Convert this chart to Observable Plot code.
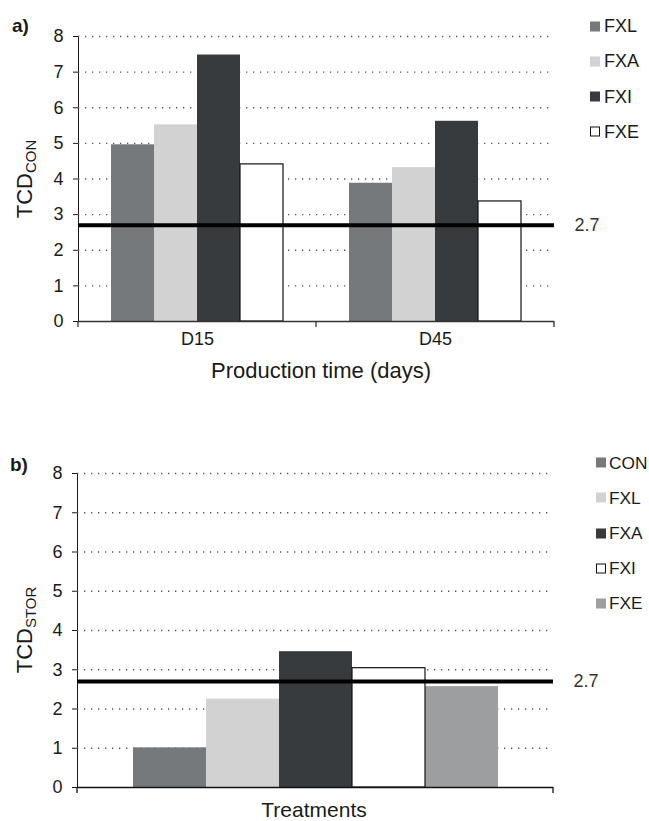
<!DOCTYPE html>
<html>
<head>
<meta charset="utf-8">
<script src="https://cdn.jsdelivr.net/npm/d3@7"></script>
<script src="https://cdn.jsdelivr.net/npm/@observablehq/plot@0.6"></script>
<style>
  html, body { margin: 0; padding: 0; background: #fff; }
  #wrap { position: relative; width: 649px; height: 821px; overflow: hidden; font-family: "Liberation Sans", Arial, sans-serif; color: #1a1a1a; }
  #wrap svg { position: absolute; left: 0; }
  .ov { position: absolute; white-space: nowrap; line-height: 1; }
  .panel { font-weight: bold; font-size: 19px; }
  .axlab { font-size: 22px; transform: translate(-50%, -50%); }
  .axlab.small { font-size: 21px; }
  .ylab { font-size: 22px; transform: translate(-50%, -50%) rotate(-90deg); }
  .ylab sub { font-size: 15px; vertical-align: -4px; }
  .leg { position: absolute; font-size: 18px; display: flex; align-items: center; transform: translateY(-50%); }
  .leg.b { font-size: 17.3px; }
  .leg span.sw { display: inline-block; width: 10px; height: 10px; margin-right: 4px; box-sizing: border-box; }
  .leg.b span.sw { margin-right: 3px; }
</style>
</head>
<body>
<div id="wrap"></div>
<script>
// ---- data ----
const days = ["D15", "D45"];
const treatmentsA = ["FXL", "FXA", "FXI", "FXE"];
const valuesD15 = [4.96, 5.52, 7.48, 4.41];
const valuesD45 = [3.88, 4.32, 5.62, 3.37];
const colorsA = ["#76797c", "#d1d2d1", "#383b3e", "#ffffff"];

const treatmentsB = ["CON", "FXL", "FXA", "FXI", "FXE"];
const valuesB = [1.01, 2.25, 3.46, 3.04, 2.57];
const colorsB = ["#76797c", "#d1d2d1", "#383b3e", "#ffffff", "#9c9ea0"];

const threshold = 2.7;
const yTicks = [0, 1, 2, 3, 4, 5, 6, 7, 8];
const gridTicks = [1, 2, 3, 4, 5, 6, 7, 8];

const wrap = document.getElementById("wrap");
const font = '"Liberation Sans", Arial, sans-serif';

// ---- chart a ----
const seriesA = [valuesD15, valuesD45];
const dataA = days.flatMap((d, i) => treatmentsA.map((t, j) => ({day: d, treatment: t, value: seriesA[i][j]})));

const plotA = Plot.plot({
  width: 649, height: 421,
  marginTop: 36, marginBottom: 100, marginLeft: 78, marginRight: 95,
  style: {fontFamily: font, fontSize: "18px", color: "#1a1a1a", background: "transparent", overflow: "visible"},
  fx: {domain: days, padding: 0, label: null, axis: "bottom", tickSize: 0, tickPadding: 11},
  x: {domain: treatmentsA, paddingInner: 0, paddingOuter: 0.72, axis: null},
  y: {domain: [0, 8], ticks: yTicks, tickSize: 5, tickPadding: 10, label: null, line: true},
  color: {domain: treatmentsA, range: colorsA},
  marks: [
    Plot.gridY(gridTicks, {stroke: "#555", strokeOpacity: 1, strokeWidth: 1.3, strokeDasharray: "1.3,5.7"}),
    Plot.barY(dataA, {fx: "day", x: "treatment", y: "value", fill: "treatment"}),
    Plot.barY(dataA.filter(d => colorsA[treatmentsA.indexOf(d.treatment)] === "#ffffff"),
      {fx: "day", x: "treatment", y: "value", fill: "#fff", stroke: "#111", strokeWidth: 1.2}),
    Plot.ruleY([0], {stroke: "#333", strokeWidth: 1.3}),
    Plot.ruleY([threshold], {stroke: "#000", strokeWidth: 4}),
    Plot.text([{day: days[days.length - 1], v: threshold}], {fx: "day", y: "v", text: d => String(d.v),
      frameAnchor: "right", textAnchor: "start", dx: 20, fill: "#333", fontSize: 18})
  ]
});
plotA.style.top = "0px";
wrap.appendChild(plotA);

// category boundary ticks on x axis (Excel style)
{
  const fxs = plotA.scale("fx"), ys = plotA.scale("y");
  const y0 = ys.apply(0);
  const edges = [fxs.apply(days[0]), ...days.map(d => fxs.apply(d) + fxs.bandwidth)];
  d3.select(plotA).append("g").selectAll("line").data(edges).join("line")
    .attr("x1", d => d).attr("x2", d => d).attr("y1", y0).attr("y2", y0 + 6)
    .attr("stroke", "#333").attr("stroke-width", 1.3);
}

// ---- chart b ----
const dataB = treatmentsB.map((t, i) => ({treatment: t, value: valuesB[i]}));
const plotB = Plot.plot({
  width: 649, height: 400,
  marginTop: 52, marginBottom: 34, marginLeft: 77, marginRight: 96,
  style: {fontFamily: font, fontSize: "18px", color: "#1a1a1a", background: "transparent", overflow: "visible"},
  x: {domain: treatmentsB, paddingInner: 0, paddingOuter: 0.75, axis: null},
  y: {domain: [0, 8], ticks: yTicks, tickSize: 5, tickPadding: 10, label: null, line: true},
  color: {domain: treatmentsB, range: colorsB},
  marks: [
    Plot.gridY(gridTicks, {stroke: "#555", strokeOpacity: 1, strokeWidth: 1.3, strokeDasharray: "1.3,5.7"}),
    Plot.barY(dataB, {x: "treatment", y: "value", fill: "treatment"}),
    Plot.barY(dataB.filter(d => colorsB[treatmentsB.indexOf(d.treatment)] === "#ffffff"),
      {x: "treatment", y: "value", fill: "#fff", stroke: "#111", strokeWidth: 1.2}),
    Plot.ruleY([0], {stroke: "#111", strokeWidth: 1.3}),
    Plot.ruleY([threshold], {stroke: "#000", strokeWidth: 4}),
    Plot.text([threshold], {y: d => d, text: d => String(d), frameAnchor: "right", textAnchor: "start",
      dx: 20, fill: "#333", fontSize: 18})
  ]
});
plotB.style.top = "421px";
wrap.appendChild(plotB);
{
  const xs = plotB.scale("x"), ys = plotB.scale("y");
  const y0 = ys.apply(0);
  d3.select(plotB).append("g").selectAll("line").data(xs.range).join("line")
    .attr("x1", d => d).attr("x2", d => d).attr("y1", y0).attr("y2", y0 + 6)
    .attr("stroke", "#111").attr("stroke-width", 1.3);
}

// ---- overlays: panel letters, axis titles, legends ----
function ov(cls, html, left, top) {
  const el = document.createElement("div");
  el.className = "ov " + cls;
  el.innerHTML = html;
  el.style.left = left + "px";
  el.style.top = top + "px";
  wrap.appendChild(el);
  return el;
}
ov("panel", "a)", 12, 16);
ov("panel", "b)", 10, 455);

const yA = plotA.scale("y"), yB = plotB.scale("y");
ov("ylab", "TCD<sub>CON</sub>", 26, (yA.apply(0) + yA.apply(8)) / 2);
ov("ylab", "TCD<sub>STOR</sub>", 26, 421 + (yB.apply(0) + yB.apply(8)) / 2);
ov("axlab", "Production time (days)", 321, 371);
ov("axlab small", "Treatments", 314, 809);

function legend(names, colors, left, top0, step, cls) {
  names.forEach((n, i) => {
    const el = document.createElement("div");
    el.className = "leg " + cls;
    el.style.left = left + "px";
    el.style.top = (top0 + i * step) + "px";
    const sw = document.createElement("span");
    sw.className = "sw";
    sw.style.background = colors[i];
    if (colors[i] === "#ffffff") sw.style.border = "1.3px solid #111";
    el.appendChild(sw);
    el.appendChild(document.createTextNode(n));
    wrap.appendChild(el);
  });
}
legend(treatmentsA, colorsA, 590, 26, 35.3, "a");
legend(treatmentsB, colorsB, 596, 462.6, 35.2, "b");
</script>
</body>
</html>
